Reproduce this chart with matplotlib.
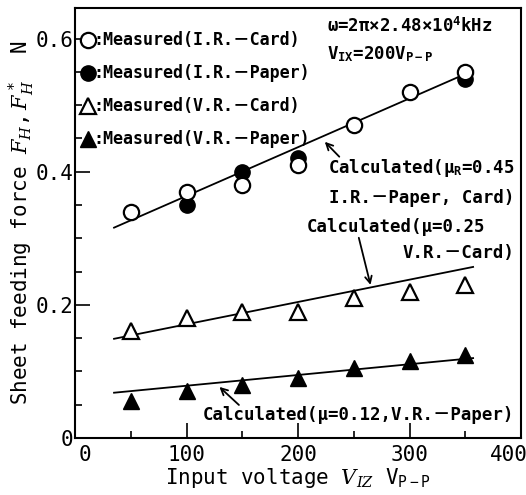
import matplotlib
matplotlib.use("Agg")
import matplotlib.pyplot as plt
import matplotlib.transforms as mtrans
from matplotlib.lines import Line2D

# ---- DATA ----
volt = [50, 100, 150, 200, 250, 300, 350]
ir_card = [0.34, 0.37, 0.38, 0.41, 0.47, 0.52, 0.55]
ir_paper_x = [100, 150, 200, 350]
ir_paper = [0.35, 0.40, 0.42, 0.54]
vr_card = [0.16, 0.18, 0.19, 0.19, 0.21, 0.22, 0.23]
vr_paper = [0.055, 0.07, 0.08, 0.09, 0.105, 0.115, 0.125]

calc_x = [35, 357]
calc_ir = [0.316, 0.552]
calc_vr_card = [0.149, 0.257]
calc_vr_paper = [0.068, 0.120]

legend_labels = [":Measured(I.R.－Card)", ":Measured(I.R.－Paper)",
                 ":Measured(V.R.－Card)", ":Measured(V.R.－Paper)"]

FAM = ["DejaVu Sans Mono", "Noto Sans CJK JP"]
plt.rcParams["font.family"] = FAM
plt.rcParams["mathtext.fontset"] = "custom"
plt.rcParams["mathtext.rm"] = "DejaVu Sans Mono"
plt.rcParams["mathtext.it"] = "DejaVu Serif:italic"
plt.rcParams["mathtext.bf"] = "DejaVu Sans Mono:bold"

fig = plt.figure(figsize=(5.26, 4.95), dpi=100)
ax = fig.add_axes([0.1426, 0.1152, 0.848, 0.8686])

ax.plot(calc_x, calc_ir, color="black", lw=1.3)
ax.plot(calc_x, calc_vr_card, color="black", lw=1.3)
ax.plot(calc_x, calc_vr_paper, color="black", lw=1.3)

ax.plot(ir_paper_x, ir_paper, "o", color="black", ms=11, ls="none")
ax.plot(volt, ir_card, "o", mfc="white", mec="black", mew=1.6, ms=11, ls="none")
ax.plot(volt, vr_card, "^", mfc="white", mec="black", mew=1.6, ms=11, ls="none")
ax.plot(volt, vr_paper, "^", color="black", ms=11, ls="none")

ax.set_xlim(0, 398)
ax.set_ylim(0, 0.646)
ax.set_xticks([0, 100, 200, 300, 400])
ax.set_xticks([50, 150, 250, 350], minor=True)
ax.set_yticks([0, 0.2, 0.4, 0.6])
ax.set_yticklabels(["0", "0.2", "0.4", "0.6"])
ax.set_yticks([0.05, 0.1, 0.15, 0.25, 0.3, 0.35, 0.45, 0.5, 0.55], minor=True)
ax.tick_params(which="major", direction="in", length=11, width=1.2, labelsize=15)
ax.tick_params(which="minor", direction="in", length=5, width=1.2)
ax.tick_params(axis="x", pad=5)
ax.tick_params(axis="y", pad=1)
for s in ax.spines.values():
    s.set_linewidth(1.5)

# nudge end labels like the original (0 right, 400 left)
xt = ax.get_xticklabels()
xt[0].set_transform(xt[0].get_transform() + mtrans.ScaledTranslation(7/72, 0, fig.dpi_scale_trans))
xt[-1].set_transform(xt[-1].get_transform() + mtrans.ScaledTranslation(-9/72, 0, fig.dpi_scale_trans))

ax.set_xlabel("Input voltage $V_{IZ}$ V$_{\\mathrm{P-P}}$", fontsize=15, labelpad=1)
ax.set_ylabel("Sheet feeding force $F_H,F_H^*$  N", fontsize=15, labelpad=0)

handles = [
    Line2D([], [], marker="o", ls="none", mfc="white", mec="black", mew=1.6, ms=11),
    Line2D([], [], marker="o", ls="none", color="black", ms=11),
    Line2D([], [], marker="^", ls="none", mfc="white", mec="black", mew=1.6, ms=11),
    Line2D([], [], marker="^", ls="none", color="black", ms=11),
]
ax.legend(handles, legend_labels, loc="upper left", frameon=False,
          handlelength=0.6, handletextpad=0.0, labelspacing=0.9,
          borderaxespad=0.1, bbox_to_anchor=(0.0, 0.965),
          prop={"family": FAM, "size": 12, "weight": "bold"})

tkw = dict(fontsize=12.5, fontweight="bold", family=FAM, va="center")
ax.text(0.565, 0.957, "ω=2π×2.48×10$^\\mathbf{4}$kHz", transform=ax.transAxes, **tkw)
ax.text(0.565, 0.892, "V$_\\mathbf{IX}$=200V$_\\mathbf{P-P}$", transform=ax.transAxes, **tkw)

ax.text(394, 0.406, "Calculated(μ$_\\mathbf{R}$=0.45", ha="right", **tkw)
ax.text(394, 0.361, "I.R.－Paper, Card)", ha="right", **tkw)
ax.text(208, 0.317, "Calculated(μ=0.25", ha="left", **tkw)
ax.text(394, 0.278, "V.R.－Card)", ha="right", **tkw)
ax.text(394, 0.0346, "Calculated(μ=0.12,V.R.－Paper)", ha="right", **tkw)

akw = dict(arrowstyle="->", color="black", lw=1.3, shrinkA=0, shrinkB=0,
           mutation_scale=12)
ax.annotate("", xy=(224, 0.445), xytext=(237, 0.4226), arrowprops=akw)
ax.annotate("", xy=(265, 0.230), xytext=(254.5, 0.3008), arrowprops=akw)
ax.annotate("", xy=(129.5, 0.0767), xytext=(147, 0.0496), arrowprops=akw)

fig.savefig("out.png", dpi=100)
